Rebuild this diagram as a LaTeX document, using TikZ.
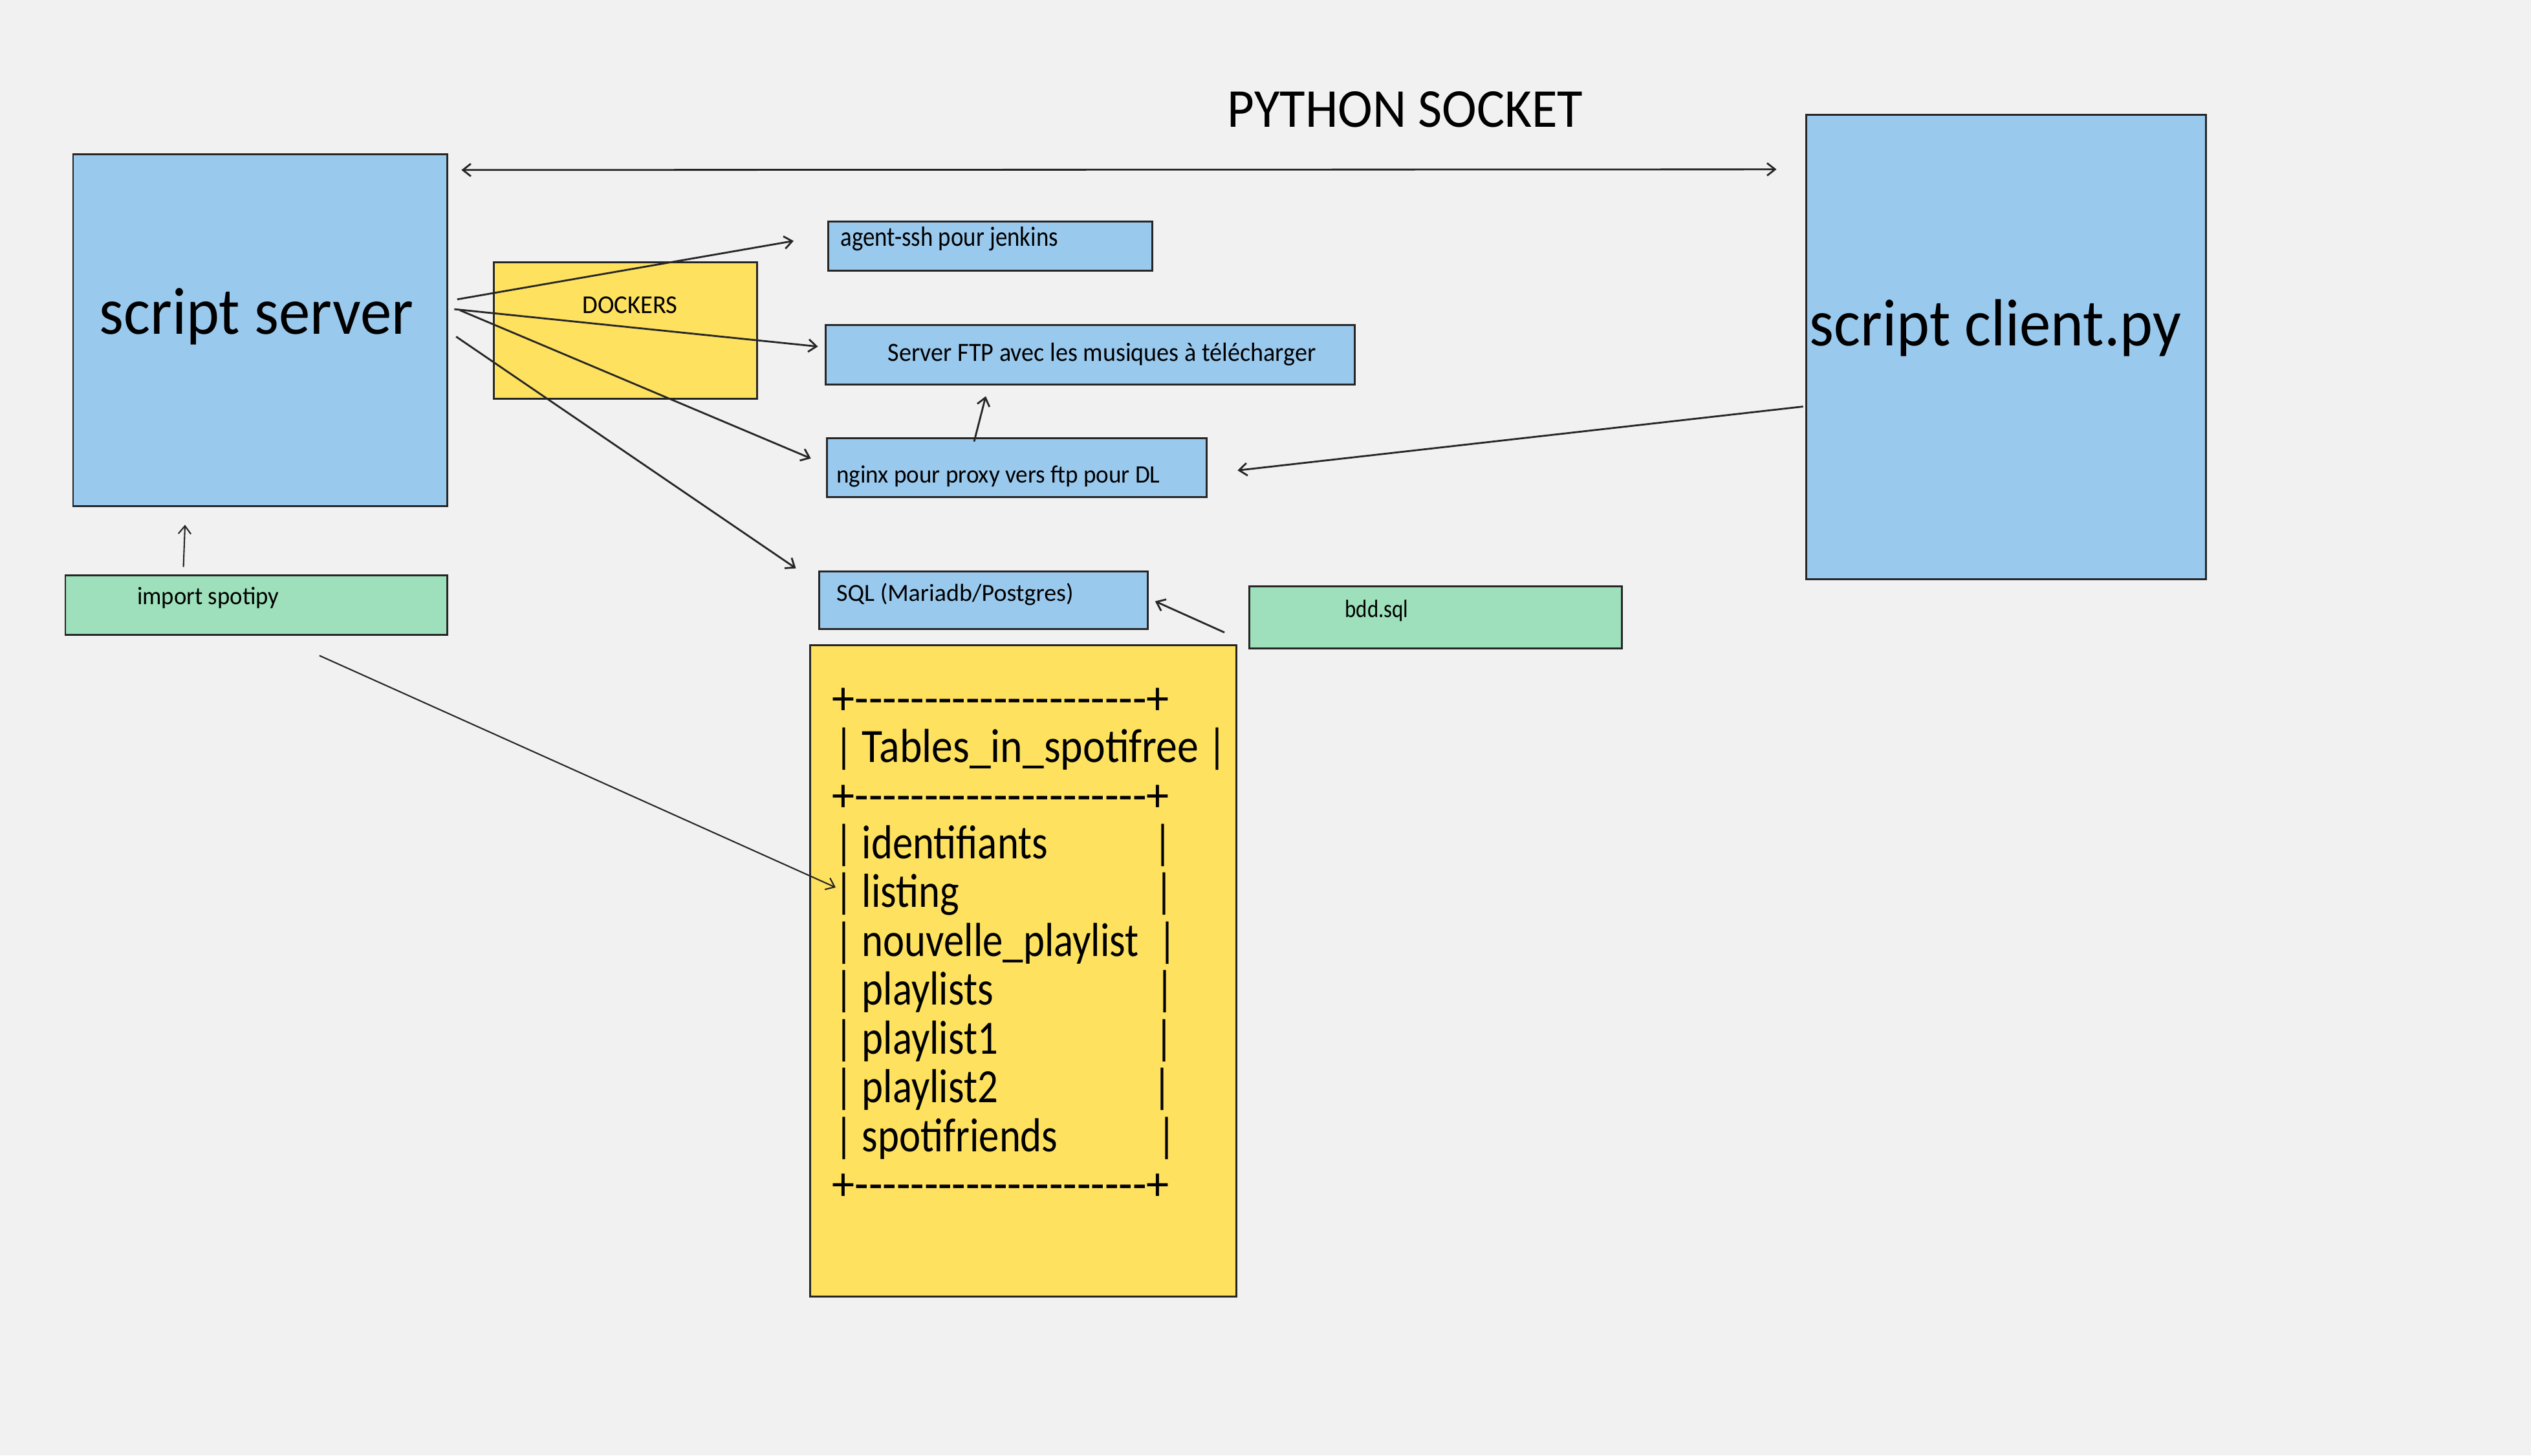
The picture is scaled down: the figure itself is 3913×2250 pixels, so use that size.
\documentclass[tikz,border=0pt]{standalone}
\usepackage{fontspec}
\setmainfont{Carlito}
\usetikzlibrary{arrows.meta}
\definecolor{bgc}{HTML}{F1F1F1}
\definecolor{blc}{HTML}{9AC9EE}
\definecolor{ylc}{HTML}{FEE15E}
\definecolor{grc}{HTML}{9DE0BB}
\definecolor{lnc}{HTML}{262626}
\newcommand\fsz[1]{\fontsize{#1}{#1}\selectfont}
\newcommand\sx[2]{\scalebox{#1}[1]{#2}}
\newcommand\hy{-\kern0pt}
\newcommand\dline{+\hy\hy\hy\hy\hy\hy\hy\hy\hy\hy\hy\hy\hy\hy\hy\hy\hy\hy\hy\hy\hy+}
\newcommand\tline[3][.85]{\makebox[#2][l]{\sx{.85}{|\kern0.21em}\sx{#1}{#3}\hfill\sx{.85}{|}}}
\begin{document}
\begin{tikzpicture}[x=0.01cm,y=-0.01cm,
  box/.style={draw=lnc, line width=0.85pt, inner sep=0pt, outer sep=0pt, anchor=north west},
  bluebox/.style={box, fill=blc},
  yelbox/.style={box, fill=ylc},
  grbox/.style={box, fill=grc},
  lbl/.style={inner sep=0pt, anchor=base west, text=black},
  dashrow/.style={inner sep=0pt, anchor=west, text=black, font=\fsz{21pt}},
  row/.style={inner sep=0pt, anchor=base west, text=black, font=\fsz{21pt}},
  >={Straight Barb[length=3.5pt,width=5.5pt]},
  arr/.style={draw=lnc, line width=0.8pt, ->},
  thinarr/.style={draw=lnc, line width=0.6pt, ->},
]
\fill[bgc] (0,0) rectangle (3913,2250);
\useasboundingbox (0,0) rectangle (3913,2250);

% boxes
\node[bluebox, minimum width=5.785cm, minimum height=5.44cm] (srv) at (113,238) {};
\node[yelbox, minimum width=4.07cm, minimum height=2.104cm] (dock) at (763,405.6) {};
\node[bluebox, minimum width=5.012cm, minimum height=0.76cm] (ssh) at (1280.4,342) {};
\node[bluebox, minimum width=8.18cm, minimum height=0.92cm] (ftp) at (1276,502) {};
\node[bluebox, minimum width=5.868cm, minimum height=0.906cm] (ngx) at (1278.4,677.7) {};
\node[bluebox, minimum width=5.083cm, minimum height=0.885cm] (sql) at (1266.3,883.5) {};
\node[grbox, minimum width=5.755cm, minimum height=0.96cm] (bdd) at (1931.5,906) {};
\node[grbox, minimum width=5.905cm, minimum height=0.918cm] (imp) at (101,889.8) {};
\node[yelbox, minimum width=6.587cm, minimum height=10.06cm] (tab) at (1252,997.7) {};
\node[bluebox, minimum width=6.18cm, minimum height=7.18cm] (cli) at (2792,177.5) {};

% labels
\node[lbl] (pyt) at (1897,196) {\fsz{24.1pt}\sx{.955}{PYTHON SOCKET}};
\node[lbl] (srvt) at (153,516) {\fsz{29.3pt}\sx{.94}{script server}};
\node[lbl] (clit) at (2797,534) {\fsz{29.3pt}\sx{.94}{script client.py}};
\node[lbl] (dockt) at (900,484) {\fsz{11.3pt}\sx{.97}{DOCKERS}};
\node[lbl] (ssht) at (1299,380) {\fsz{12.2pt}\sx{.86}{agent-ssh pour jenkins}};
\node[lbl] (ftpt) at (1372,558) {\fsz{11.6pt}\sx{.935}{Server FTP avec les musiques à télécharger}};
\node[lbl] (ngxt) at (1292.5,746.4) {\fsz{11pt}\sx{.96}{nginx pour proxy vers ftp pour DL}};
\node[lbl] (sqlt) at (1292.5,929.5) {\fsz{10.8pt}{SQL (Mariadb/Postgres)}};
\node[lbl] (bddt) at (2079,954) {\fsz{11pt}\sx{.85}{bdd.sql}};
\node[lbl] (impt) at (211.4,934.7) {\fsz{11pt}\sx{.95}{import spotipy}};

% table
\node[dashrow] (r0) at (1286,1084) {\sx{.95}{\dline}};
\node[row] (r1) at (1290,1178) {\tline[.89]{6.05cm}{Tables\_in\_spotifree}};
\node[dashrow] (r2) at (1286,1234) {\sx{.95}{\dline}};
\node[row] (r3) at (1290,1327) {\tline{5.21cm}{identifiants}};
\node[row] (r4) at (1290,1402.5) {\tline{5.23cm}{listing}};
\node[row] (r5) at (1290,1478) {\tline{5.28cm}{nouvelle\_playlist}};
\node[row] (r6) at (1290,1553.5) {\tline{5.245cm}{playlists}};
\node[row] (r7) at (1290,1629) {\tline{5.23cm}{playlist1}};
\node[row] (r8) at (1290,1704.5) {\tline{5.205cm}{playlist2}};
\node[row] (r9) at (1290,1780) {\tline{5.27cm}{spotifriends}};
\node[dashrow] (r10) at (1286,1835) {\sx{.95}{\dline}};

% connectors
\draw[arr, <->] ([shift={(21.5,24.8)}]srv.north east) -- ([shift={(-45.5,84.3)}]cli.north west);
\draw[arr] ([shift={(15,224.8)}]srv.north east) -- ([shift={(-53.4,-7.6)}]ssh.west);
\draw[arr] ([shift={(10.5,240)}]srv.north east) -- ([shift={(-11.5,-12.3)}]ftp.west);
\draw[arr] ([shift={(19.1,241.6)}]srv.north east) -- ([shift={(-24.7,-14.3)}]ngx.west);
\draw[arr] ([shift={(13.3,282.4)}]srv.north east) -- ([shift={(-35.8,-4.9)}]sql.north west);
\draw[arr] ([shift={(227.6,4.9)}]ngx.north west) -- ([shift={(248,18.5)}]ftp.south west);
\draw[arr] ([shift={(-4.4,91.8)}]cli.west) -- ([shift={(47.8,4.2)}]ngx.east);
\draw[arr] ([shift={(-38.5,23.7)}]bdd.west) -- ([shift={(10.9,1.75)}]sql.east);
\draw[thinarr] ([shift={(182.6,-13.3)}]imp.north west) -- ([shift={(173,29)}]srv.south west);
\draw[thinarr] ([shift={(392.75,31.8)}]imp.south west) -- ([shift={(40,374.3)}]tab.north west);
\end{tikzpicture}
\end{document}
